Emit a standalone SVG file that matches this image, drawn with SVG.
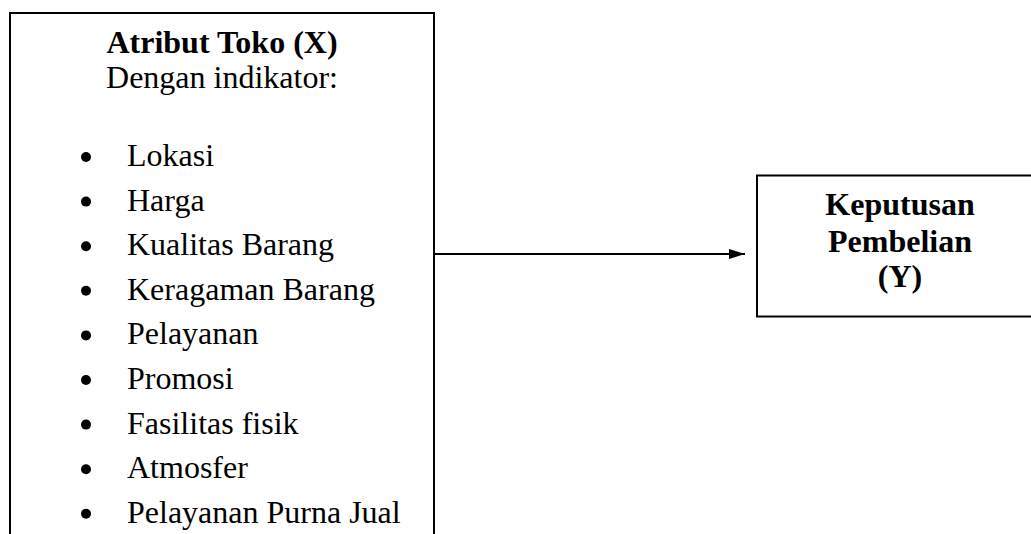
<svg xmlns="http://www.w3.org/2000/svg" width="1031" height="534" viewBox="0 0 1031 534">
<style>
.box{fill:#fff;stroke:#000;stroke-width:2}
.t{font-family:"Liberation Serif","Times New Roman",serif;font-size:32px;fill:#000}
.b{font-weight:bold}
.m{text-anchor:middle}
.dot{fill:#000}
.conn{stroke:#000;stroke-width:2;fill:none}
</style>
<defs>
<marker id="ah" markerWidth="8" markerHeight="5" refX="8" refY="2.5" orient="auto" markerUnits="strokeWidth">
<path d="M0,0 L8,2.5 L0,5 Z" fill="#000"/>
</marker>
</defs>
<g id="connectors">
<line class="conn" x1="434" y1="254" x2="745" y2="254" marker-end="url(#ah)"/>
</g>
<g id="node-x">
<rect class="box" x="10" y="13" width="424" height="540"/>
<text class="t b m" x="222" y="53">Atribut Toko (X)</text>
<text class="t m" x="222" y="88">Dengan indikator:</text>
<circle class="dot" cx="86" cy="157" r="5"/><text class="t" x="127" y="166">Lokasi</text>
<circle class="dot" cx="86" cy="201.6" r="5"/><text class="t" x="127" y="210.6">Harga</text>
<circle class="dot" cx="86" cy="246.2" r="5"/><text class="t" x="127" y="255.2">Kualitas Barang</text>
<circle class="dot" cx="86" cy="290.8" r="5"/><text class="t" x="127" y="299.8">Keragaman Barang</text>
<circle class="dot" cx="86" cy="335.4" r="5"/><text class="t" x="127" y="344.4">Pelayanan</text>
<circle class="dot" cx="86" cy="380" r="5"/><text class="t" x="127" y="389">Promosi</text>
<circle class="dot" cx="86" cy="424.6" r="5"/><text class="t" x="127" y="433.6">Fasilitas fisik</text>
<circle class="dot" cx="86" cy="469.2" r="5"/><text class="t" x="127" y="478.2">Atmosfer</text>
<circle class="dot" cx="86" cy="513.8" r="5"/><text class="t" x="127" y="522.8">Pelayanan Purna Jual</text>
</g>
<g id="node-y">
<rect class="box" x="757" y="175.5" width="290" height="141"/>
<text class="t b m" x="900" y="215">Keputusan</text>
<text class="t b m" x="900" y="252">Pembelian</text>
<text class="t b m" x="900" y="287">(Y)</text>
</g>
</svg>
